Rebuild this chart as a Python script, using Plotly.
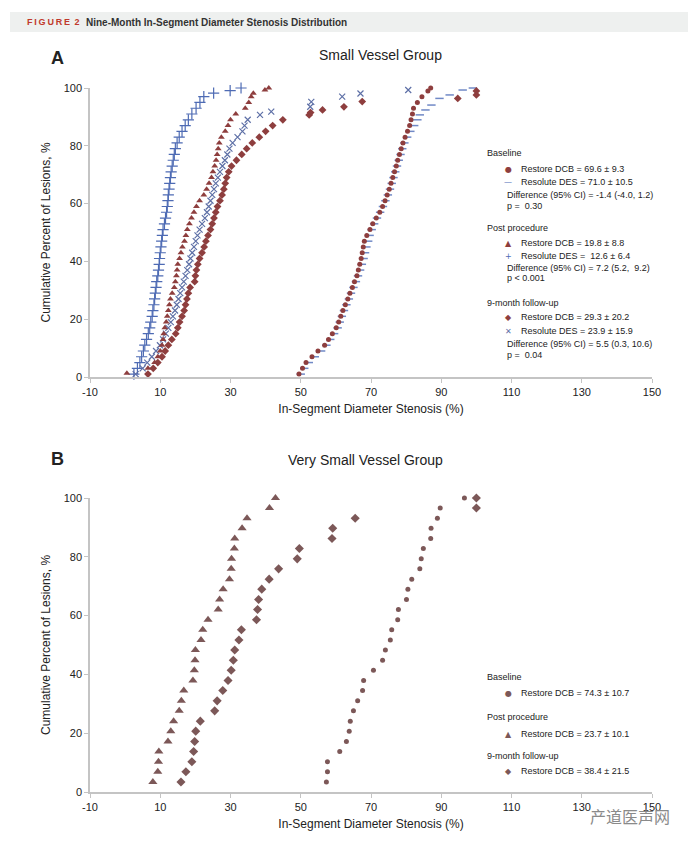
import plotly.graph_objects as go

W, H = 696, 848          # window size of the reference
PAGE = 8                 # default body margin of the html page
FW, FH = W - PAGE, H - PAGE
FONT = "Liberation Sans, Arial, sans-serif"

# ─────────────────────────────────────────
# PANEL A : Small Vessel Group
# cumulative percent of lesions vs stenosis
# ─────────────────────────────────────────

a_base_dcb_x = [49.5, 50.5, 51.5, 53.2, 54.9, 56.8, 57.9, 59.0, 60.1, 60.8,
                61.4, 62.0, 62.7, 63.4, 64.0, 64.7, 65.3, 66.0, 66.4, 66.8,
                67.2, 67.5, 67.8, 68.1, 68.8, 69.7, 70.5, 71.5, 72.5, 73.3,
                74.0, 74.6, 75.2, 75.7, 76.2, 76.7, 77.2, 77.6, 78.1, 78.6,
                79.1, 79.7, 80.4, 81.0, 81.4, 81.8, 82.1, 83.2, 84.5, 86.2,
                87.0]
a_base_dcb_y = [1, 3, 5, 7, 9, 11, 13, 15, 17, 19,
                21, 23, 25, 27, 29, 31, 33, 35, 37, 39,
                41, 43, 45, 47, 49, 51, 53, 55, 57, 59,
                61, 63, 65, 67, 69, 71, 73, 75, 77, 79,
                81, 83, 85, 87, 89, 91, 93, 95, 97, 99,
                100]

a_base_des_x = [50.0, 51.0, 52.3, 54.0, 55.8, 57.3, 58.4, 59.5, 60.5, 61.1,
                61.7, 62.3, 63.0, 63.7, 64.3, 65.0, 65.7, 66.3, 66.9, 67.4,
                67.9, 68.3, 68.7, 69.2, 69.6, 70.2, 70.9, 71.7, 72.6, 73.4,
                74.1, 74.8, 75.4, 75.9, 76.4, 76.9, 77.4, 77.9, 78.4, 78.9,
                79.5, 80.3, 81.2, 82.3, 83.2,
                83.9, 85.5, 87.2, 89.5, 92.4, 96.1, 99.0]
a_base_des_y = [1, 3, 5, 7, 9, 11, 13, 15, 17, 19,
                21, 23, 25, 27, 29, 31, 33, 35, 37, 39,
                41, 43, 45, 47, 49, 51, 53, 55, 57, 59,
                61, 63, 65, 67, 69, 71, 73, 75, 77, 79,
                81, 83, 85, 87, 89,
                90.7, 92.4, 94.1, 96.4, 97.6, 99.3, 100]

a_post_dcb_x = [0.5, 6.5, 8.4, 9.3, 10.0, 10.5, 10.8, 11.0, 11.3, 11.7,
                12.0, 12.3, 12.6, 12.9, 13.4, 14.0, 14.3, 14.6, 14.8, 15.0,
                15.5, 15.9, 16.3, 16.9, 17.3, 17.7, 18.3, 18.9, 19.6, 20.3,
                21.2, 22.4, 23.2, 23.9, 24.6, 25.0, 25.5, 25.9, 26.2, 26.5,
                26.8, 27.4, 28.5, 29.3, 30.0, 31.5, 34.2, 35.2, 35.9, 36.5,
                39.8, 40.9]
a_post_dcb_y = [1.3, 3, 5, 7, 9, 11, 13, 15, 17, 19,
                21, 23, 25, 27, 29, 31, 33, 35, 37, 39,
                41, 43, 45, 47, 49, 51, 53, 55, 57, 59,
                61, 63, 65, 67, 69, 71, 73, 75, 77, 79,
                81, 83, 85, 87, 89, 91, 93, 95, 97, 98.2,
                99.3, 100]

a_post_des_x = [2.5, 3.5, 4.2, 4.7, 5.2, 5.6, 6.1, 6.6, 7.0, 7.3,
                7.7, 7.9, 8.2, 8.4, 8.6, 8.8, 9.0, 9.3, 9.5, 9.7,
                9.8, 10.0, 10.2, 10.4, 10.6, 10.8, 11.2, 11.5, 11.8, 12.0,
                12.2, 12.3, 12.5, 12.7, 12.9, 13.1, 13.4, 13.7, 14.0, 14.3,
                14.8, 15.4, 16.2, 17.1, 18.0, 19.0, 20.2, 21.3, 22.4,
                25.2, 29.9, 33.0]
a_post_des_y = [1, 3, 5, 7, 9, 11, 13, 15, 17, 19,
                21, 23, 25, 27, 29, 31, 33, 35, 37, 39,
                41, 43, 45, 47, 49, 51, 53, 55, 57, 59,
                61, 63, 65, 67, 69, 71, 73, 75, 77, 79,
                81, 83, 85, 87, 89, 91, 93, 95, 97,
                98.2, 99.1, 100]

a_fu_dcb_x = [6.5, 8.0, 9.3, 10.5, 11.4, 12.3, 13.3, 14.4, 15.0, 15.5,
              16.2, 16.8, 17.2, 17.6, 18.0, 18.5, 19.8, 20.0, 20.3, 20.7,
              21.2, 21.9, 22.5, 23.0, 23.6, 24.3, 24.8, 25.3, 25.8, 26.3,
              27.0, 27.6, 28.1, 28.5, 28.9, 29.5, 30.3, 31.7, 33.2, 34.6,
              36.2, 38.2, 40.0, 42.0, 44.9,
              52.4, 52.8, 56.2, 62.3, 67.5, 94.7, 100.0, 100.0]
a_fu_dcb_y = [1, 3, 5, 7, 9, 11, 13, 15, 17, 19,
              21, 23, 25, 27, 29, 31, 33, 35, 37, 39,
              41, 43, 45, 47, 49, 51, 53, 55, 57, 59,
              61, 63, 65, 67, 69, 71, 73, 75, 77, 79,
              81, 83, 85, 87, 89,
              90.7, 91.5, 92.4, 93.5, 95.3, 96.4, 97.6, 99.0]

a_fu_des_x = [3.0, 5.0, 6.3, 7.6, 8.8, 9.9, 10.8, 11.6, 12.3, 13.0,
              13.6, 14.2, 14.7, 15.2, 15.7, 16.2, 16.7, 17.2, 17.7, 18.2,
              18.6, 19.1, 19.6, 20.1, 20.6, 21.2, 21.9, 22.7, 23.3, 23.8,
              24.3, 24.8, 25.3, 25.8, 26.4, 27.0, 27.7, 28.4, 29.1, 29.7,
              30.6, 32.0, 33.4, 34.0, 34.9,
              38.4, 41.6, 52.7, 53.0, 61.8, 67.0, 80.6]
a_fu_des_y = [1, 3, 5, 7, 9, 11, 13, 15, 17, 19,
              21, 23, 25, 27, 29, 31, 33, 35, 37, 39,
              41, 43, 45, 47, 49, 51, 53, 55, 57, 59,
              61, 63, 65, 67, 69, 71, 73, 75, 77, 79,
              81, 83, 85, 87, 89,
              90.7, 91.8, 93.5, 95.2, 97.0, 98.1, 99.3]

# ─────────────────────────────────────────
# PANEL B : Very Small Vessel Group (DCB only)
# ─────────────────────────────────────────

b_y = [3.4, 6.9, 10.3, 13.8, 17.2, 20.7, 24.1, 27.6, 31.0, 34.5,
       37.9, 41.4, 44.8, 48.3, 51.7, 55.2, 58.6, 62.1, 65.5, 69.0,
       72.4, 75.9, 79.3, 82.8, 86.2, 89.7, 93.1, 96.6, 100.0]
b_base_x = [57.3, 57.6, 57.6, 61.1, 63.0, 63.8, 64.1, 65.0, 66.2, 67.6,
            67.9, 70.7, 73.3, 74.1, 75.5, 75.9, 77.6, 77.8, 80.1, 80.5,
            81.6, 83.9, 84.3, 84.9, 87.0, 87.1, 88.9, 89.7, 96.6]
b_post_x = [7.9, 9.3, 9.5, 9.6, 12.2, 13.0, 13.8, 15.4, 16.0, 16.7,
            19.3, 19.7, 19.9, 20.0, 21.6, 22.1, 23.6, 26.5, 26.9, 27.9,
            29.7, 30.2, 30.3, 31.1, 31.2, 33.3, 34.7, 41.1, 42.8]
b_fu_x = [15.9, 17.3, 19.0, 19.5, 19.8, 20.1, 21.4, 25.5, 26.2, 27.8,
          29.3, 30.2, 30.8, 31.2, 32.4, 33.1, 37.4, 37.7, 38.0, 38.9,
          41.0, 43.7, 49.0, 49.6, 58.9, 59.1, 65.5, 100.0, 100.0]

x_ticks = [-10, 10, 30, 50, 70, 90, 110, 130, 150]
x_tick_text = ["-10", "10", "30", "50", "70", "90", "110", "130", "150"]
y_ticks = [0, 20, 40, 60, 80, 100]

# legend text: (kind, label) ; kind = header / symbol glyph / note
legend_a = [
    ("head", "Baseline"),
    ("●", "Restore DCB = 69.6 ± 9.3"),
    ("—", "Resolute DES = 71.0 ± 10.5"),
    ("note", "Difference (95% CI) = -1.4 (-4.0, 1.2)"),
    ("note", "p =  0.30"),
    ("head", "Post procedure"),
    ("▲", "Restore DCB = 19.8 ± 8.8"),
    ("+", "Resolute DES =  12.6 ± 6.4"),
    ("note", "Difference (95% CI) = 7.2 (5.2,  9.2)"),
    ("note", "p < 0.001"),
    ("head", "9-month follow-up"),
    ("◆", "Restore DCB = 29.3 ± 20.2"),
    ("✕", "Resolute DES = 23.9 ± 15.9"),
    ("note", "Difference (95% CI) = 5.5 (0.3, 10.6)"),
    ("note", "p =  0.04"),
]
legend_a_rows = [153, 169, 182, 195, 206, 228, 243, 256, 268, 278,
                 303, 317, 331, 344, 355]

legend_b = [
    ("head", "Baseline"),
    ("●", "Restore DCB = 74.3 ± 10.7"),
    ("head", "Post procedure"),
    ("▲", "Restore DCB = 23.7 ± 10.1"),
    ("head", "9-month follow-up"),
    ("◆", "Restore DCB = 38.4 ± 21.5"),
]
legend_b_rows = [677, 693, 717, 734, 756, 771]

# ─────────────────────────────────────────
# COLORS
# ─────────────────────────────────────────
DCB_A = "#8e3e3e"
DES_A = "#4e6bb4"
DES_X = "#5d6fa6"
DES_DASH = "#7089c6"
DCB_B = "#7c5858"
AXIS = "#c4c4c4"
TEXT = "#222222"


# window pixel -> paper fraction (figure sits after the page margin)
def px(x):
    return (x - PAGE) / FW


def py(y):
    return 1 - (y - PAGE) / FH


fig = go.Figure()


def add_points(x, y, axis, symbol, color, size, line_w=0.0):
    xa, ya = axis
    fig.add_trace(go.Scatter(
        x=x, y=y, xaxis=xa, yaxis=ya,
        mode="markers",
        showlegend=False,
        cliponaxis=False,
        marker=dict(symbol=symbol, color=color, size=size,
                    line=dict(color=color, width=line_w)),
        hovertemplate="%{x}: %{y}%<extra></extra>",
    ))


A = ("x", "y")
B = ("x2", "y2")

# panel A
add_points(a_base_des_x, a_base_des_y, A, "line-ew", DES_DASH, 6, 1.5)
add_points(a_base_dcb_x, a_base_dcb_y, A, "circle", DCB_A, 5)
add_points(a_post_des_x, a_post_des_y, A, "cross-thin", DES_A, 8, 1.2)
add_points(a_fu_des_x, a_fu_des_y, A, "x-thin", DES_X, 6, 1.2)
add_points(a_post_dcb_x, a_post_dcb_y, A, "triangle-up", DCB_A, 6)
add_points(a_fu_dcb_x, a_fu_dcb_y, A, "diamond", DCB_A, 6)

# panel B
add_points(b_base_x, b_y, B, "circle", DCB_B, 5)
add_points(b_post_x, b_y, B, "triangle-up", DCB_B, 8)
add_points(b_fu_x, b_y, B, "diamond", DCB_B, 7)


def axis_style(domain, rng, ticks, labels, anchor, title, standoff):
    return dict(
        domain=domain, range=rng, anchor=anchor, automargin=False,
        tickmode="array", tickvals=ticks, ticktext=labels,
        showline=True, linecolor=AXIS, linewidth=1.5,
        ticks="outside", ticklen=4, tickcolor=AXIS, tickwidth=1,
        showgrid=False, zeroline=False,
        tickfont=dict(family=FONT, size=11, color=TEXT),
        title=dict(text=title, standoff=standoff,
                   font=dict(family=FONT, size=12, color=TEXT)),
    )


x_dom = [px(90), px(652)]
y_labels = [str(v) for v in y_ticks]
fig.update_layout(
    width=FW, height=FH,
    margin=dict(l=0, r=0, t=0, b=0, autoexpand=False),
    paper_bgcolor="white", plot_bgcolor="white",
    font=dict(family=FONT, color=TEXT),
    xaxis=axis_style(x_dom, [-10, 150], x_ticks, x_tick_text, "y",
                     "In-Segment Diameter Stenosis (%)", 8),
    yaxis=axis_style([py(377), py(88)], [0, 100], y_ticks, y_labels, "x",
                     "Cumulative Percent of Lesions, %", 10),
    xaxis2=axis_style(x_dom, [-10, 150], x_ticks, x_tick_text, "y2",
                      "In-Segment Diameter Stenosis (%)", 8),
    yaxis2=axis_style([py(792), py(498)], [0, 100], y_ticks, y_labels, "x2",
                      "Cumulative Percent of Lesions, %", 10),
)

# header band
fig.add_shape(type="rect", xref="paper", yref="paper",
              x0=px(10), x1=px(696), y0=py(32), y1=py(12),
              fillcolor="#eef0ef", line=dict(width=0), layer="below")

ann = []


def text(x, y, s, size=9, color=TEXT, anchor="left", bold=False, family=FONT):
    ann.append(dict(
        x=px(x), y=py(y), xref="paper", yref="paper",
        text=f"<b>{s}</b>" if bold else s, showarrow=False,
        xanchor=anchor, yanchor="middle",
        font=dict(family=family, size=size, color=color),
    ))


# letter-spaced caption label
text(25, 22, "\u2009".join("FIGURE") + "\u2002" + "2", size=9,
     color="#c0392b", bold=True)
text(84, 22, "Nine-Month In-Segment Diameter Stenosis Distribution",
     size=10, color="#333333", bold=True)

text(49, 58, "A", size=18, bold=True)
text(380, 55, "Small Vessel Group", size=14, anchor="center")
text(49, 459, "B", size=18, bold=True)
text(365, 460, "Very Small Vessel Group", size=14, anchor="center")

GLYPH_COLOR = {"●": DCB_A, "—": DES_DASH, "▲": DCB_A, "+": DES_A,
               "◆": DCB_A, "✕": DES_X}


def draw_legend(items, rows, glyph_colors):
    for (kind, label), y in zip(items, rows):
        if kind == "head":
            text(485, y, label, size=9)
        elif kind == "note":
            text(505, y, label, size=9)
        else:
            text(508, y, kind, size=8, color=glyph_colors[kind],
                 anchor="center", family="DejaVu Sans")
            text(519, y, label, size=9)


draw_legend(legend_a, legend_a_rows, GLYPH_COLOR)
draw_legend(legend_b, legend_b_rows, {"●": DCB_B, "▲": DCB_B, "◆": DCB_B})

# watermark
text(588, 816, "产道医声网", size=16, color="#8a8a8a",
     family="Noto Sans CJK SC")

fig.update_layout(annotations=ann)

fig.write_html("out.html")
